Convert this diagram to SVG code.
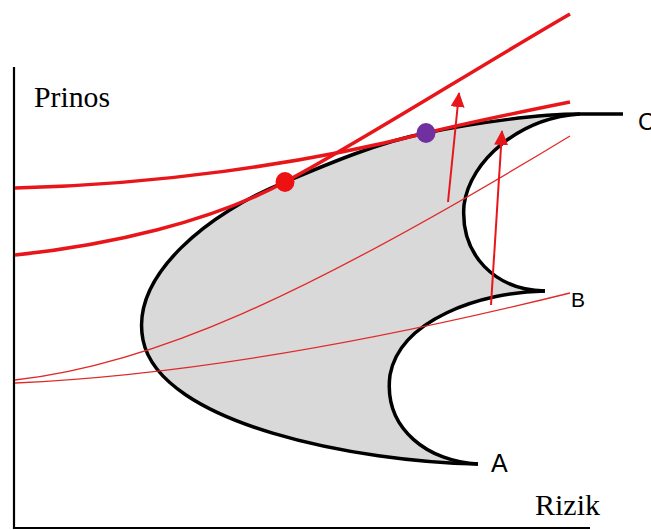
<svg xmlns="http://www.w3.org/2000/svg" width="651" height="530" viewBox="0 0 651 530">
<style>
.axis{stroke:#000;stroke-width:2.2;fill:none}
.edge{stroke:#000;stroke-width:3.5;fill:none;stroke-linecap:butt}
.thick{stroke:#e8161b;stroke-width:3.5;fill:none}
.thin{stroke:#e02a2a;stroke-width:1.3;fill:none}
.arrow{stroke:#e8161b;stroke-width:2;fill:none;marker-end:url(#ah)}
.serif{font-family:"Liberation Serif","Times New Roman",serif;fill:#000}
.sans{font-family:"Liberation Sans",Arial,sans-serif;fill:#000}
</style>
<defs>
<marker id="ah" markerUnits="userSpaceOnUse" markerWidth="16" markerHeight="16" refX="14" refY="7" orient="auto">
<path d="M0,0 L15,7 L0,14 Z" fill="#e8161b"/>
</marker>
</defs>
<rect width="651" height="530" fill="#fff"/>
<g id="axes">
<line class="axis" x1="14" y1="67" x2="14" y2="529"/>
<line class="axis" x1="13" y1="528" x2="590" y2="528"/>
</g>
<g id="region">
<path fill="#d9d9d9" d="M478,464 C360,462 160,425 143,340 C130,275 210,212 285,182 C330,163 380,142 426,133 C480,122 540,114 580,114 C520,118 470,160 464,205 C460,255 495,290 545,291 C480,292 400,320 390,375 C383,430 430,462 478,464 Z"/>
<path class="edge" d="M478,464 C360,462 160,425 143,340 C130,275 210,212 285,182 C330,163 380,142 426,133 C480,122 540,114 580,114 L623,114"/>
<path class="edge" d="M580,114 C520,118 470,160 464,205 C460,255 495,290 545,291"/>
<path class="edge" d="M545,291 C480,292 400,320 390,375 C383,430 430,462 478,464"/>
</g>
<g id="connectors">
<path class="thick" d="M15,255 C110,245 210,222 285,182 C360,142 470,72 570,14"/>
<path class="thick" d="M15,188 C150,185 300,165 426,133 C480,120 530,110 570,102"/>
<path class="thin" d="M15,380 C150,365 300,300 570,136"/>
<path class="thin" d="M15,383 C200,375 400,335 570,293"/>
<line class="arrow" x1="448" y1="202" x2="459" y2="93"/>
<line class="arrow" x1="491" y1="305" x2="502" y2="131"/>
</g>
<g id="point-red"><ellipse cx="285" cy="182" rx="9.5" ry="10" fill="#ee1111"/></g>
<g id="point-purple"><ellipse cx="426" cy="133" rx="9.5" ry="10" fill="#7030a0"/></g>
<g id="labels">
<text class="serif" x="34" y="107" font-size="29" textLength="76" lengthAdjust="spacingAndGlyphs">Prinos</text>
<text class="serif" x="535" y="515" font-size="29" textLength="65" lengthAdjust="spacingAndGlyphs">Rizik</text>
<text class="sans" x="638" y="130" font-size="24">C</text>
<text class="sans" x="571" y="307" font-size="21">B</text>
<text class="sans" x="491" y="472" font-size="25">A</text>
</g>
</svg>
